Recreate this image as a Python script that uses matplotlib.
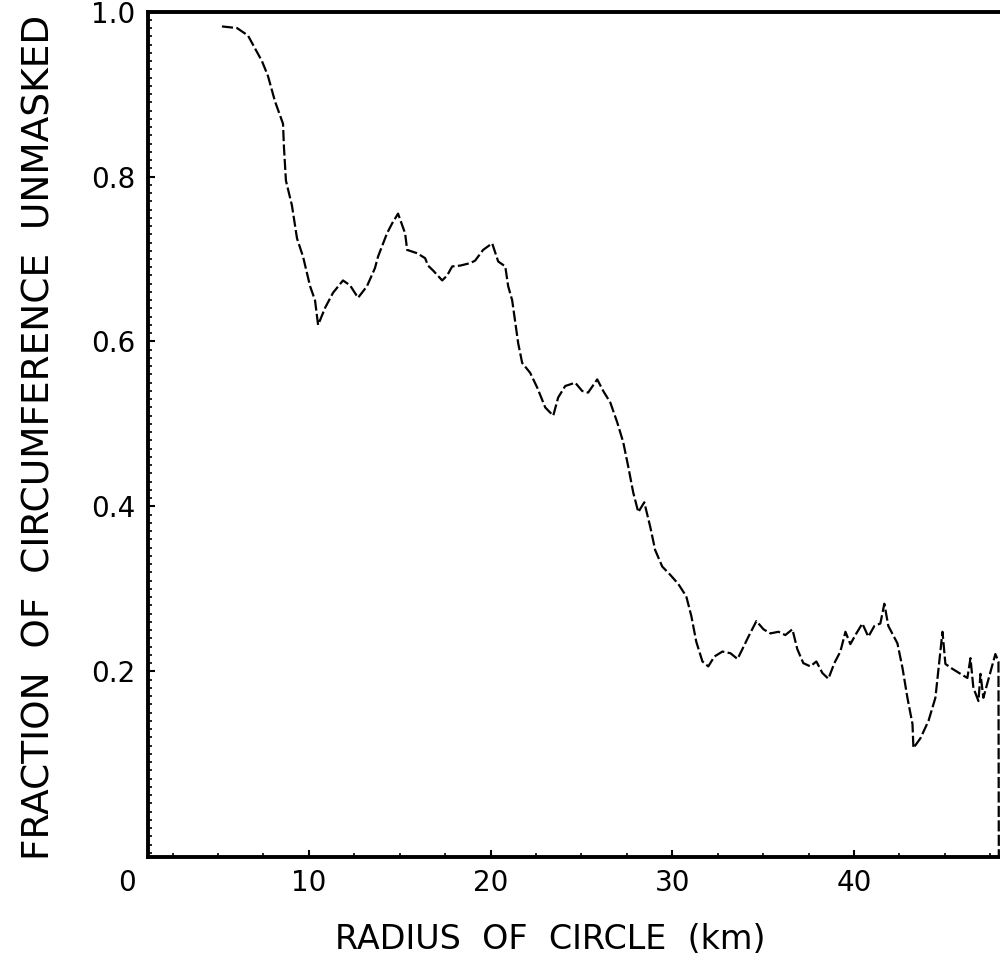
import matplotlib
matplotlib.use("Agg")
from matplotlib import pyplot as plt
from matplotlib.ticker import MultipleLocator

# Radius of circle (km) and fraction of the circumference left unmasked
radius_km = [5.22, 6.05, 6.65, 7.42, 7.75, 8.14, 8.58, 8.63, 8.74, 9.07,
             9.35, 9.68, 10.07, 10.34, 10.51, 10.90, 11.33, 11.88, 12.27, 12.71,
             13.20, 13.64, 13.81, 14.30, 14.58, 14.91, 15.30, 15.41, 15.96, 16.40,
             16.56, 16.84, 17.34, 17.61, 17.89, 18.33, 18.88, 19.15, 19.59, 20.09,
             20.42, 20.81, 20.97, 21.19, 21.52, 21.74, 22.18, 22.57, 23.01, 23.45,
             23.72, 24.11, 24.66, 25.04, 25.37, 25.87, 26.20, 26.59, 26.97, 27.30,
             27.58, 27.85, 28.13, 28.46, 28.79, 29.06, 29.45, 29.89, 30.33, 30.77,
             31.05, 31.32, 31.66, 31.98, 32.32, 32.76, 33.20, 33.59, 33.86, 34.19,
             34.63, 35.02, 35.40, 35.84, 36.22, 36.61, 36.88, 37.21, 37.60, 37.93,
             38.26, 38.59, 38.92, 39.25, 39.53, 39.80, 40.13, 40.46, 40.79, 41.12,
             41.45, 41.67, 41.89, 42.39, 42.67, 42.94, 43.22, 43.27, 43.66, 44.10,
             44.48, 44.87, 45.03, 45.42, 45.86, 46.24, 46.41, 46.57, 46.85, 46.96,
             47.12, 47.78, 47.95, 47.97]
fraction_unmasked = [0.982, 0.980, 0.971, 0.940, 0.922, 0.891, 0.864, 0.836, 0.795, 0.765,
                     0.725, 0.703, 0.667, 0.650, 0.620, 0.641, 0.659, 0.674, 0.668, 0.653,
                     0.667, 0.689, 0.703, 0.731, 0.743, 0.755, 0.731, 0.711, 0.707, 0.701,
                     0.692, 0.686, 0.674, 0.680, 0.691, 0.692, 0.695, 0.698, 0.711, 0.719,
                     0.697, 0.691, 0.667, 0.650, 0.598, 0.574, 0.562, 0.544, 0.520, 0.510,
                     0.532, 0.546, 0.550, 0.540, 0.538, 0.554, 0.540, 0.526, 0.502, 0.478,
                     0.448, 0.417, 0.393, 0.405, 0.375, 0.347, 0.327, 0.317, 0.306, 0.291,
                     0.267, 0.236, 0.212, 0.206, 0.218, 0.224, 0.222, 0.215, 0.227, 0.242,
                     0.261, 0.251, 0.246, 0.248, 0.244, 0.251, 0.227, 0.210, 0.206, 0.212,
                     0.198, 0.191, 0.210, 0.224, 0.248, 0.233, 0.246, 0.258, 0.242, 0.255,
                     0.258, 0.282, 0.255, 0.234, 0.204, 0.168, 0.136, 0.107, 0.119, 0.140,
                     0.168, 0.248, 0.209, 0.203, 0.197, 0.192, 0.216, 0.180, 0.164, 0.197,
                     0.168, 0.221, 0.212, -0.025]

x_ticks = [10, 20, 30, 40]
y_ticks = [0.2, 0.4, 0.6, 0.8, 1.0]

fig = plt.figure(figsize=(10, 9.65), dpi=100)
ax = fig.add_axes([0.148, 0.112, 0.855, 0.876])

ax.plot(radius_km, fraction_unmasked, color='black', lw=1.6,
        linestyle=(0, (5, 1.5)))

ax.set_xlim(1.15, 48.2)
ax.set_ylim(-0.025, 1.0)

ax.set_xticks(x_ticks)
ax.set_yticks(y_ticks)
ax.set_xticklabels([str(t) for t in x_ticks])
ax.set_yticklabels([f'{t:.1f}' for t in y_ticks])
ax.yaxis.set_minor_locator(MultipleLocator(0.01))
ax.xaxis.set_minor_locator(MultipleLocator(2.5))
ax.tick_params(which='major', direction='in', length=5, width=1.5,
               labelsize=20, pad=9)
ax.tick_params(which='minor', direction='in', length=3, width=1.2)

# origin label sits left of the frame
ax.text(0, -0.04, '0', fontsize=20, ha='center', va='top',
        transform=ax.transData, clip_on=False)

for side in ['left', 'bottom', 'top']:
    ax.spines[side].set_linewidth(2.8)
ax.spines['right'].set_visible(False)

fig.text(0.55, 0.026, 'RADIUS  OF  CIRCLE  (km)', fontsize=24,
         ha='center', va='center')
fig.text(0.040, 0.547, 'FRACTION  OF  CIRCUMFERENCE  UNMASKED', fontsize=27,
         ha='center', va='center', rotation=90)

fig.savefig('out.png', dpi=100, facecolor='white')
